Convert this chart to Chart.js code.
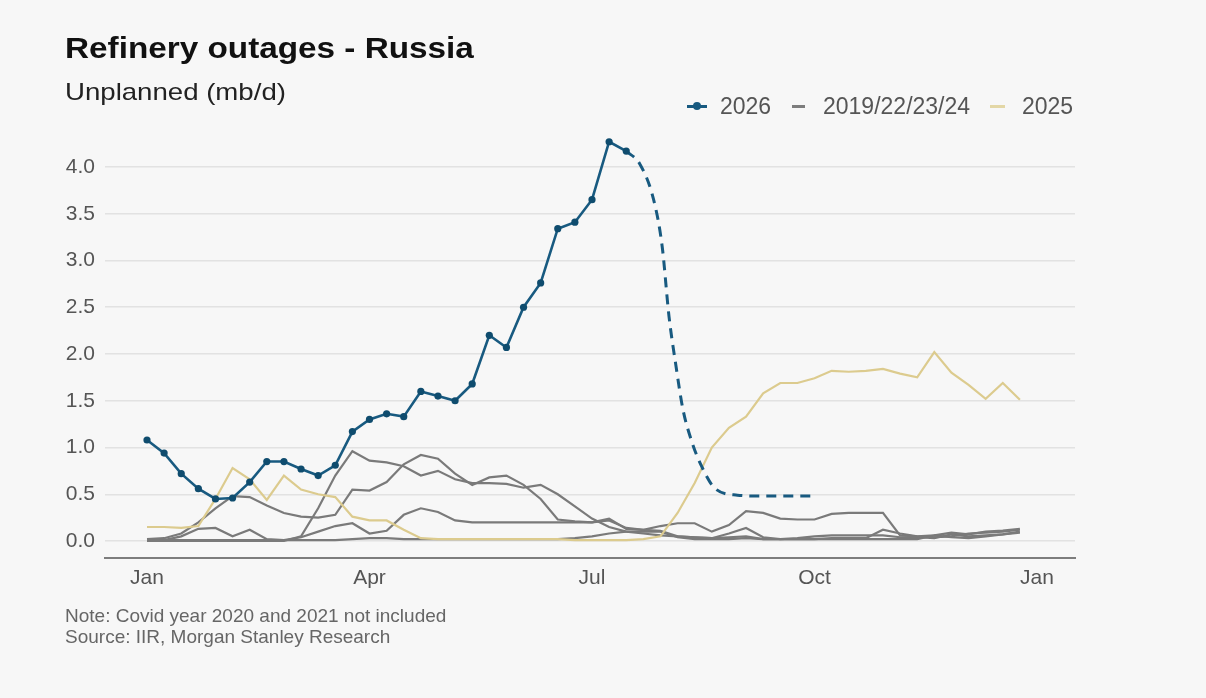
<!DOCTYPE html>
<html>
<head>
<meta charset="utf-8">
<script src="https://cdn.jsdelivr.net/npm/chart.js@4"></script>
<style>
body { margin: 0; background: #f7f7f7; font-family: "Liberation Sans", Arial, sans-serif; }
#wrap { position: relative; width: 1206px; height: 698px; overflow: hidden; }
#c { position: absolute; left: 0; top: 0; }
.txt { position: absolute; white-space: nowrap; line-height: 1; }
#title { left: 65px; top: 34px; font-size: 29px; font-weight: bold; color: #111; transform: scaleX(1.148); transform-origin: left; }
#subtitle { left: 65px; top: 80px; font-size: 24px; color: #222; transform: scaleX(1.15); transform-origin: left; }
.leg { top: 95px; font-size: 23px; color: #555; }
.mark { position: absolute; height: 3px; }
.dot { position: absolute; width: 8px; height: 8px; border-radius: 50%; }
.note { left: 65px; font-size: 19px; color: #666; }
</style>
</head>
<body>
<div id="wrap">
  <canvas id="c" width="1206" height="698"></canvas>
  <div class="txt" id="title">Refinery outages - Russia</div>
  <div class="txt" id="subtitle">Unplanned (mb/d)</div>

  <div class="mark" style="left:687px; top:105px; width:20px; background:#185a80;"></div>
  <div class="dot" style="left:693px; top:102px; background:#185a80;"></div>
  <div class="txt leg" style="left:720px;">2026</div>
  <div class="mark" style="left:792px; top:105px; width:13px; background:#7d7d7d;"></div>
  <div class="txt leg" style="left:823px;">2019/22/23/24</div>
  <div class="mark" style="left:990px; top:105px; width:15px; background:#e3d7a6;"></div>
  <div class="txt leg" style="left:1022px;">2025</div>

  <div class="txt note" style="top:606px;">Note: Covid year 2020 and 2021 not included</div>
  <div class="txt note" style="top:627px;">Source: IIR, Morgan Stanley Research</div>
</div>
<script>
// x positions are week numbers, Jan 1 = 0
const tickWeeks = [0, 13, 26, 39, 52];
const tickLabels = ['Jan', 'Apr', 'Jul', 'Oct', 'Jan'];
const yTicks = [0, 0.5, 1, 1.5, 2, 2.5, 3, 3.5, 4];

const weeks2026 = [0, 1, 2, 3, 4, 5, 6, 7, 8, 9, 10, 11, 12, 13, 14, 15, 16, 17, 18, 19, 20, 21, 22, 23, 24, 25, 26, 27, 28];
const values2026 = [1.08, 0.94, 0.72, 0.56, 0.45, 0.46, 0.63, 0.85, 0.85, 0.77, 0.70, 0.81, 1.17, 1.30, 1.36, 1.33, 1.60, 1.55, 1.50, 1.68, 2.20, 2.07, 2.50, 2.76, 3.34, 3.41, 3.65, 4.27, 4.17];

// dashed projection for 2026
const weeksProj = [28, 28.8, 29.6, 30.1, 30.5, 30.9, 31.3, 31.8, 32.4, 33.2, 34.5, 36, 37.5, 39.1];
const valuesProj = [4.17, 4.03, 3.65, 3.15, 2.40, 1.88, 1.42, 1.08, 0.80, 0.56, 0.49, 0.48, 0.48, 0.48];

const weeksYear = [0, 1, 2, 3, 4, 5, 6, 7, 8, 9, 10, 11, 12, 13, 14, 15, 16, 17, 18, 19, 20, 21, 22, 23, 24, 25,
    26, 27, 28, 29, 30, 31, 32, 33, 34, 35, 36, 37, 38, 39, 40, 41, 42, 43, 44, 45, 46, 47, 48, 49, 50, 51];

const values2025 = [0.15, 0.15, 0.14, 0.16, 0.45, 0.78, 0.66, 0.44, 0.70, 0.55, 0.50, 0.47, 0.26, 0.22, 0.22, 0.12, 0.03,
    0.02, 0.02, 0.02, 0.02, 0.02, 0.02, 0.02, 0.02, 0.01, 0.01, 0.01, 0.01, 0.02, 0.05, 0.30, 0.62, 1.00, 1.21, 1.33,
    1.58, 1.69, 1.69, 1.74, 1.82, 1.81, 1.82, 1.84, 1.79, 1.75, 2.02, 1.80, 1.67, 1.52, 1.69, 1.51];

const valuesGreyA = [0.02, 0.03, 0.08, 0.20, 0.35, 0.48, 0.47, 0.38, 0.30, 0.26, 0.25, 0.28, 0.55, 0.54, 0.63, 0.82,
    0.92, 0.88, 0.72, 0.60, 0.68, 0.70, 0.60, 0.45, 0.23, 0.21, 0.20, 0.22, 0.14, 0.12, 0.16, 0.19, 0.19, 0.10, 0.17,
    0.32, 0.30, 0.24, 0.23, 0.23, 0.29, 0.30, 0.30, 0.30, 0.06, 0.05, 0.06, 0.09, 0.07, 0.10, 0.11, 0.13];

const valuesGreyB = [0, 0, 0, 0, 0, 0, 0, 0, 0, 0.05, 0.35, 0.70, 0.96, 0.86, 0.84, 0.80, 0.70, 0.75, 0.66, 0.62, 0.62,
    0.61, 0.57, 0.60, 0.50, 0.37, 0.24, 0.15, 0.10, 0.08, 0.06, 0.05, 0.04, 0.03, 0.08, 0.14, 0.04, 0.02, 0.02, 0.02,
    0.03, 0.03, 0.03, 0.12, 0.08, 0.05, 0.04, 0.05, 0.08, 0.09, 0.10, 0.12];

const valuesGreyC = [0.01, 0.01, 0.01, 0.01, 0.01, 0.01, 0.01, 0.01, 0.01, 0.04, 0.10, 0.16, 0.19, 0.08, 0.11, 0.28,
    0.35, 0.31, 0.22, 0.20, 0.20, 0.20, 0.20, 0.20, 0.20, 0.20, 0.20, 0.24, 0.13, 0.12, 0.11, 0.05, 0.04, 0.03, 0.04,
    0.05, 0.02, 0.02, 0.03, 0.05, 0.06, 0.06, 0.06, 0.06, 0.04, 0.04, 0.03, 0.07, 0.05, 0.06, 0.07, 0.09];

const valuesGreyD = [0.00, 0.01, 0.05, 0.13, 0.14, 0.05, 0.12, 0.02, 0.01, 0.01, 0.01, 0.01, 0.02, 0.03, 0.03, 0.02,
    0.02, 0.02, 0.02, 0.02, 0.02, 0.02, 0.02, 0.02, 0.02, 0.03, 0.05, 0.08, 0.10, 0.10, 0.10, 0.04, 0.02, 0.02, 0.02,
    0.03, 0.02, 0.02, 0.02, 0.02, 0.02, 0.02, 0.02, 0.02, 0.02, 0.02, 0.06, 0.04, 0.03, 0.05, 0.07, 0.10];

const blue = '#185a80';
const grey = '#7a7a7a';
const yellow = '#dccb8e';

function pts(xs, ys) {
    return xs.map((x, i) => ({ x: x, y: ys[i] }));
}

function greyLine(values) {
    return {
        data: pts(weeksYear, values),
        borderColor: grey,
        borderWidth: 2.2,
        pointRadius: 0,
        tension: 0
    };
}

const tickFont = { family: '"Liberation Sans", Arial, sans-serif', size: 21 };

new Chart(document.getElementById('c'), {
    type: 'line',
    data: {
        datasets: [
            {
                data: pts(weeks2026, values2026),
                borderColor: blue,
                backgroundColor: blue,
                borderWidth: 2.6,
                pointRadius: 3.6,
                pointBorderWidth: 0,
                pointBackgroundColor: '#0f4c6e',
                tension: 0
            },
            {
                data: pts(weeksProj, valuesProj),
                borderColor: blue,
                borderWidth: 3,
                borderDash: [10, 7],
                pointRadius: 0,
                cubicInterpolationMode: 'monotone'
            },
            {
                data: pts(weeksYear, values2025),
                borderColor: yellow,
                borderWidth: 2.2,
                pointRadius: 0,
                tension: 0
            },
            greyLine(valuesGreyA),
            greyLine(valuesGreyB),
            greyLine(valuesGreyC),
            greyLine(valuesGreyD)
        ]
    },
    options: {
        responsive: false,
        animation: false,
        layout: { padding: { top: 130, right: 131, left: 0, bottom: 0 } },
        plugins: {
            legend: { display: false },
            tooltip: { enabled: false }
        },
        scales: {
            x: {
                type: 'linear',
                min: -2.454,
                max: 54.22,
                afterFit: (s) => { s.height = 140; },
                afterBuildTicks: (s) => { s.ticks = tickWeeks.map((v) => ({ value: v })); },
                ticks: {
                    autoSkip: false,
                    maxRotation: 0,
                    padding: 8,
                    color: '#555',
                    font: tickFont,
                    callback: (v) => tickLabels[tickWeeks.indexOf(v)]
                },
                grid: { display: false, drawTicks: false },
                border: { display: true, color: '#7d7d7d', width: 2 }
            },
            y: {
                min: -0.1818,
                max: 4.3957,
                afterFit: (s) => { s.width = 105; },
                afterBuildTicks: (s) => { s.ticks = yTicks.map((v) => ({ value: v })); },
                ticks: {
                    padding: 10,
                    color: '#555',
                    font: tickFont,
                    callback: (v) => v.toFixed(1)
                },
                grid: { color: '#e2e2e2', lineWidth: 1.5, drawTicks: false },
                border: { display: false }
            }
        }
    }
});
</script>
</body>
</html>
